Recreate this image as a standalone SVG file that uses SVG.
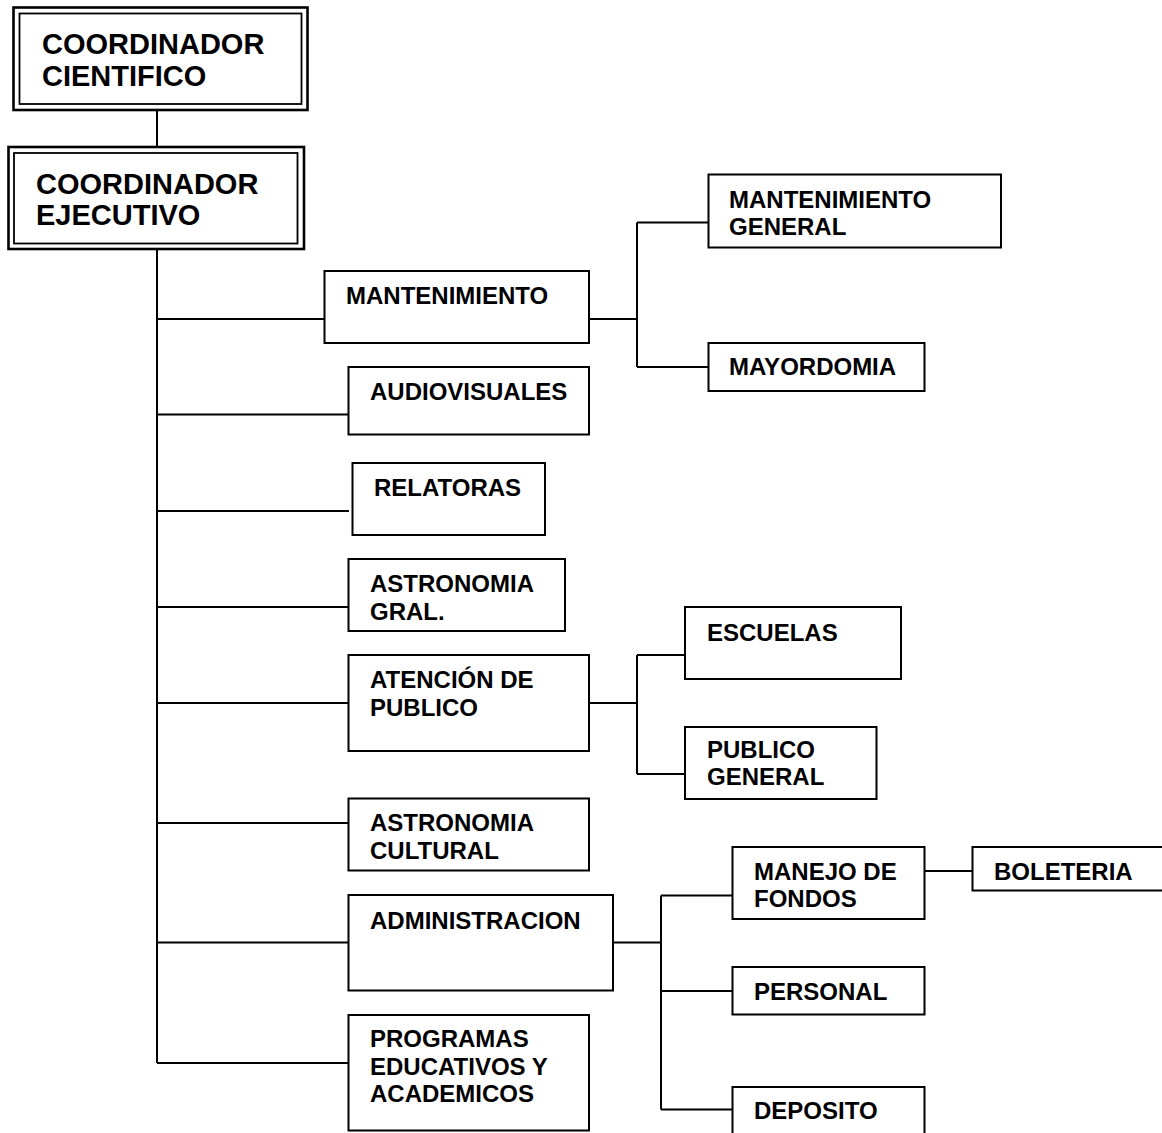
<svg xmlns="http://www.w3.org/2000/svg" width="1162" height="1133" viewBox="0 0 1162 1133">
<style>
.b{fill:#fff;stroke:#000;stroke-width:2}
.o{fill:#fff;stroke:#000;stroke-width:2.6}
.i{fill:none;stroke:#000;stroke-width:1.8}
.t{font-family:"Liberation Sans",Arial,sans-serif;font-weight:bold;font-size:24px;fill:#000}
.T{font-family:"Liberation Sans",Arial,sans-serif;font-weight:bold;font-size:29px;fill:#000}
#connectors path{fill:none;stroke:#000;stroke-width:2}
</style>
<rect width="1162" height="1133" fill="#fff"/>
<g id="connectors">
<path d="M157,110V147"/>
<path d="M157,249V1063"/>
<path d="M157,319H324.5M157,414.5H348.5M157,511H349M157,607H348.5M157,703H348.5M157,823H348.5M157,942.5H348.5M157,1063H348.5"/>
<path d="M589,319H637M637,222.5V367M637,222.5H708.5M637,367H708.5"/>
<path d="M589,703H637M637,655V774M637,655H685M637,774H685"/>
<path d="M613,942.5H661M661,895.5V1109.5M661,895.5H732.5M661,991H732.5M661,1109.5H732.5"/>
<path d="M925,871H972.5"/>
</g>
<g id="coord-cientifico">
<rect class="o" x="13.5" y="7.5" width="294" height="102.5"/>
<rect class="i" x="19.5" y="13.5" width="282" height="90.5"/>
<text class="T" x="42" y="53.5">COORDINADOR</text>
<text class="T" x="42" y="86">CIENTIFICO</text>
</g>
<g id="coord-ejecutivo">
<rect class="o" x="8.5" y="147" width="295.5" height="102"/>
<rect class="i" x="14" y="153" width="283.5" height="90.5"/>
<text class="T" x="36" y="193.5">COORDINADOR</text>
<text class="T" x="36" y="225">EJECUTIVO</text>
</g>
<g id="mantenimiento">
<rect class="b" x="324.5" y="271" width="264.5" height="72"/>
<text class="t" x="346" y="304">MANTENIMIENTO</text>
</g>
<g id="audiovisuales">
<rect class="b" x="348.5" y="367" width="240.5" height="67.5"/>
<text class="t" x="370" y="400">AUDIOVISUALES</text>
</g>
<g id="relatoras">
<rect class="b" x="352.5" y="463" width="192.5" height="72"/>
<text class="t" x="374" y="496">RELATORAS</text>
</g>
<g id="astronomia-gral">
<rect class="b" x="348.5" y="559" width="216.5" height="72"/>
<text class="t" x="370" y="591.5">ASTRONOMIA</text>
<text class="t" x="370" y="619.5">GRAL.</text>
</g>
<g id="atencion-publico">
<rect class="b" x="348.5" y="655" width="240.5" height="96"/>
<text class="t" x="370" y="688">ATENCIÓN DE</text>
<text class="t" x="370" y="716">PUBLICO</text>
</g>
<g id="astronomia-cultural">
<rect class="b" x="348.5" y="798.5" width="240.5" height="72"/>
<text class="t" x="370" y="831">ASTRONOMIA</text>
<text class="t" x="370" y="859">CULTURAL</text>
</g>
<g id="administracion">
<rect class="b" x="348.5" y="895" width="264.5" height="95.5"/>
<text class="t" x="370" y="929">ADMINISTRACION</text>
</g>
<g id="programas">
<rect class="b" x="348.5" y="1015" width="240.5" height="115.5"/>
<text class="t" x="370" y="1047">PROGRAMAS</text>
<text class="t" x="370" y="1074.5">EDUCATIVOS Y</text>
<text class="t" x="370" y="1102">ACADEMICOS</text>
</g>
<g id="mant-general">
<rect class="b" x="708.5" y="174.5" width="292.5" height="73"/>
<text class="t" x="729" y="208">MANTENIMIENTO</text>
<text class="t" x="729" y="235">GENERAL</text>
</g>
<g id="mayordomia">
<rect class="b" x="708.5" y="343" width="216" height="48"/>
<text class="t" x="729" y="375">MAYORDOMIA</text>
</g>
<g id="escuelas">
<rect class="b" x="685" y="607" width="216" height="72"/>
<text class="t" x="707" y="641">ESCUELAS</text>
</g>
<g id="publico-general">
<rect class="b" x="685" y="727" width="191.5" height="72"/>
<text class="t" x="707" y="758">PUBLICO</text>
<text class="t" x="707" y="785">GENERAL</text>
</g>
<g id="manejo-fondos">
<rect class="b" x="732.5" y="847" width="192" height="72"/>
<text class="t" x="754" y="880">MANEJO DE</text>
<text class="t" x="754" y="907">FONDOS</text>
</g>
<g id="boleteria">
<rect class="b" x="972.5" y="847" width="200" height="43.5"/>
<text class="t" x="994" y="879.5">BOLETERIA</text>
</g>
<g id="personal">
<rect class="b" x="732.5" y="967" width="192" height="47.5"/>
<text class="t" x="754" y="1000">PERSONAL</text>
</g>
<g id="deposito">
<rect class="b" x="732.5" y="1087" width="192" height="60"/>
<text class="t" x="754" y="1118.5">DEPOSITO</text>
</g>
</svg>
